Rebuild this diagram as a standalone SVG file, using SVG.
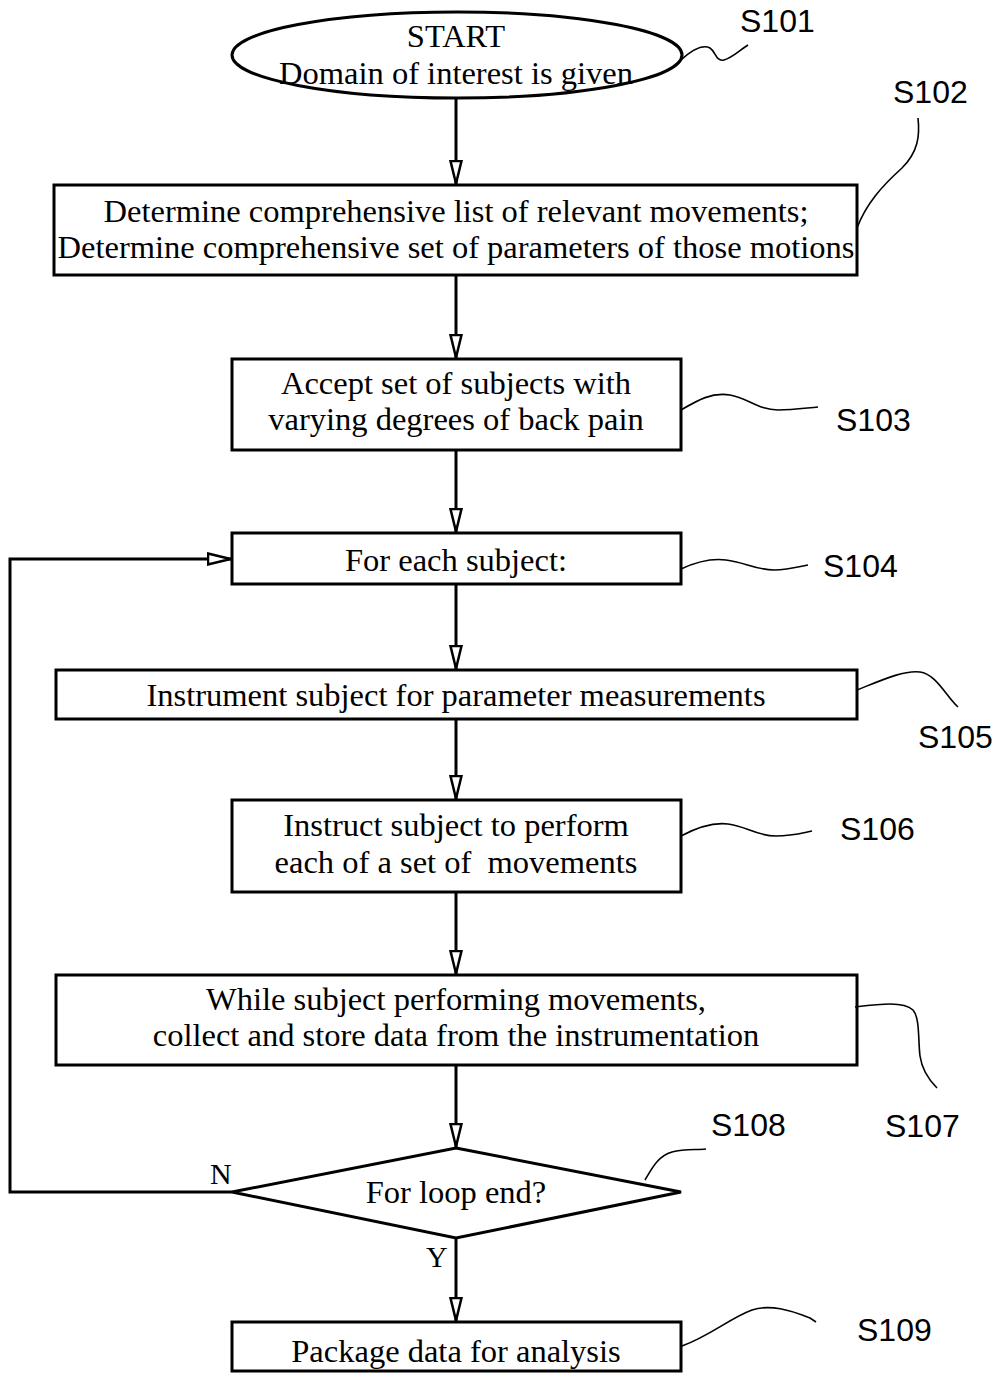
<svg xmlns="http://www.w3.org/2000/svg" width="1004" height="1373" viewBox="0 0 1004 1373">
<defs>
<style>
.box{fill:#fff;stroke:#000;stroke-width:3}
.t{font-family:"Liberation Serif","Times New Roman",serif;font-size:32.5px;text-anchor:middle;fill:#000}
.lbl{font-family:"Liberation Sans",Arial,sans-serif;font-size:32px;fill:#000}
.yn{font-family:"Liberation Serif","Times New Roman",serif;font-size:30px;fill:#000}
.conn{fill:none;stroke:#000;stroke-width:3}
.lead{fill:none;stroke:#000;stroke-width:1.6}
</style>
<marker id="arr" markerUnits="userSpaceOnUse" markerWidth="26" markerHeight="14" viewBox="0 0 26 14" refX="24.5" refY="7" orient="auto">
<path d="M1.5,1.5 L24,7 L1.5,12.5 Z" fill="#fff" stroke="#000" stroke-width="2.5"/>
</marker>
</defs>
<rect width="1004" height="1373" fill="#fff"/>

<g id="connectors">
<path class="conn" d="M456,98 V184" marker-end="url(#arr)"/>
<path class="conn" d="M456,275 V358" marker-end="url(#arr)"/>
<path class="conn" d="M456,450 V532" marker-end="url(#arr)"/>
<path class="conn" d="M456,584 V669" marker-end="url(#arr)"/>
<path class="conn" d="M456,719 V799" marker-end="url(#arr)"/>
<path class="conn" d="M456,892 V974" marker-end="url(#arr)"/>
<path class="conn" d="M456,1065 V1147" marker-end="url(#arr)"/>
<path class="conn" d="M456,1238 V1321" marker-end="url(#arr)"/>
<path class="conn" d="M232,1192 H10 V559 H231" marker-end="url(#arr)"/>
<text class="yn" x="210" y="1184">N</text>
<text class="yn" x="426" y="1267">Y</text>
</g>

<g id="S101">
<ellipse class="box" cx="457" cy="55" rx="225" ry="43"/>
<text class="t" x="456" y="47">START</text>
<text class="t" x="456" y="84">Domain of interest is given</text>
<path class="lead" d="M681,60 C692,50 702,44 710,48 C716,52 716,62 724,60 C732,58 740,50 748,45"/>
<text class="lbl" x="740" y="32">S101</text>
</g>

<g id="S102">
<rect class="box" x="54" y="185" width="803" height="90"/>
<text class="t" x="456" y="222">Determine comprehensive list of relevant movements;</text>
<text class="t" x="456" y="258">Determine comprehensive set of parameters of those motions</text>
<path class="lead" d="M857,228 C866,204 882,186 902,168 C918,152 920,136 918,118"/>
<text class="lbl" x="893" y="103">S102</text>
</g>

<g id="S103">
<rect class="box" x="232" y="359" width="449" height="91"/>
<text class="t" x="456" y="394">Accept set of subjects with</text>
<text class="t" x="456" y="430">varying degrees of back pain</text>
<path class="lead" d="M681,410 C698,400 712,392 730,395 C748,398 758,410 778,410 C794,410 806,408 818,407"/>
<text class="lbl" x="836" y="431">S103</text>
</g>

<g id="S104">
<rect class="box" x="232" y="533" width="449" height="51"/>
<text class="t" x="456" y="571">For each subject:</text>
<path class="lead" d="M681,569 C696,562 710,558 726,560 C744,562 756,570 774,570 C788,570 798,567 808,565"/>
<text class="lbl" x="823" y="577">S104</text>
</g>

<g id="S105">
<rect class="box" x="56" y="670" width="801" height="49"/>
<text class="t" x="456" y="706">Instrument subject for parameter measurements</text>
<path class="lead" d="M857,690 C882,680 904,670 920,672 C936,674 946,696 958,707"/>
<text class="lbl" x="918" y="748">S105</text>
</g>

<g id="S106">
<rect class="box" x="232" y="800" width="449" height="92"/>
<text class="t" x="456" y="836">Instruct subject to perform</text>
<text class="t" x="456" y="873" xml:space="preserve">each of a set of  movements</text>
<path class="lead" d="M681,836 C696,828 712,822 728,824 C746,826 756,836 776,836 C792,836 802,833 812,831"/>
<text class="lbl" x="840" y="840">S106</text>
</g>

<g id="S107">
<rect class="box" x="56" y="975" width="801" height="90"/>
<text class="t" x="456" y="1010">While subject performing movements,</text>
<text class="t" x="456" y="1046">collect and store data from the instrumentation</text>
<path class="lead" d="M855,1007 C880,1004 903,1001 913,1010 C920,1018 918,1040 920,1056 C922,1070 929,1080 937,1088"/>
<text class="lbl" x="885" y="1137">S107</text>
</g>

<g id="S108">
<path class="box" d="M456,1148 L681,1192 L456,1238 L232,1192 Z"/>
<text class="t" x="456" y="1203">For loop end?</text>
<path class="lead" d="M645,1180 C652,1168 658,1156 672,1152 C684,1149 696,1150 706,1149"/>
<text class="lbl" x="711" y="1136">S108</text>
</g>

<g id="S109">
<rect class="box" x="232" y="1322" width="449" height="49"/>
<text class="t" x="456" y="1362">Package data for analysis</text>
<path class="lead" d="M682,1346 C710,1336 730,1318 752,1310 C770,1304 790,1310 810,1318 L816,1322"/>
<text class="lbl" x="857" y="1341">S109</text>
</g>
</svg>
